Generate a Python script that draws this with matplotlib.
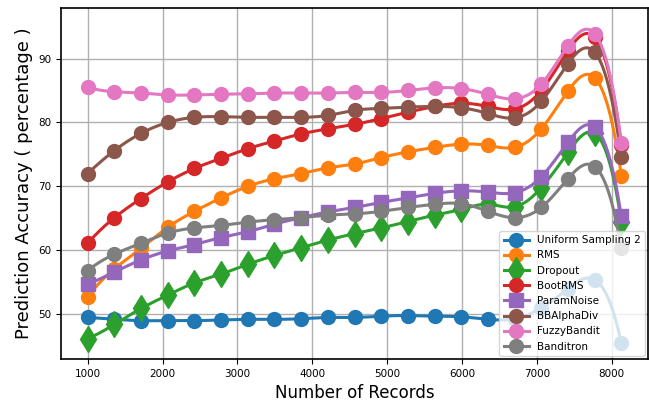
import numpy as np
import matplotlib
matplotlib.use("Agg")
import matplotlib.pyplot as plt
from matplotlib.lines import Line2D

# Number of records at each evaluation step
records = [1000, 1357, 1713, 2070, 2426, 2783, 3139, 3496, 3852, 4209, 4565,
           4922, 5278, 5635, 5991, 6348, 6704, 7061, 7417, 7774, 8130]

uniform_sampling = [49.5, 49.2, 49.0, 49.0, 49.0, 49.1, 49.2, 49.2, 49.3, 49.5, 49.5,
                    49.7, 49.8, 49.7, 49.6, 49.2, 49.3, 51.0, 54.0, 55.4, 45.5]
rms = [52.7, 57.1, 60.3, 63.6, 66.1, 68.2, 70.0, 71.2, 72.0, 72.9, 73.5,
       74.5, 75.4, 76.1, 76.6, 76.4, 76.1, 79.0, 84.9, 87.0, 71.7]
dropout = [46.2, 48.4, 50.9, 53.0, 54.9, 56.3, 57.8, 59.2, 60.4, 61.6, 62.6,
           63.5, 64.5, 65.5, 66.4, 67.2, 66.8, 69.8, 75.3, 78.3, 64.5]
boot_rms = [61.1, 65.1, 68.1, 70.7, 72.8, 74.4, 75.9, 77.1, 78.2, 79.0, 79.7,
            80.6, 81.6, 82.5, 83.0, 82.5, 82.1, 85.0, 91.2, 93.3, 76.5]
param_noise = [54.7, 56.6, 58.5, 59.9, 60.9, 62.0, 62.9, 64.1, 65.1, 66.0, 66.7,
               67.5, 68.2, 68.9, 69.3, 69.1, 69.0, 71.5, 76.9, 79.3, 65.3]
bb_alpha_div = [72.0, 75.6, 78.3, 80.0, 80.8, 80.9, 80.8, 80.8, 80.8, 81.1, 81.9,
                82.2, 82.4, 82.5, 82.3, 81.4, 80.7, 83.3, 89.2, 91.0, 74.6]
fuzzy_bandit = [85.5, 84.8, 84.6, 84.3, 84.3, 84.4, 84.5, 84.6, 84.6, 84.6, 84.7,
                84.7, 85.0, 85.4, 85.3, 84.4, 83.7, 86.0, 92.0, 93.9, 76.8]
banditron = [56.8, 59.4, 61.1, 62.7, 63.5, 63.9, 64.4, 64.8, 65.1, 65.5, 65.7,
             66.1, 66.7, 67.2, 67.3, 66.1, 65.1, 66.7, 71.2, 73.1, 60.3]

labels = ["Uniform Sampling 2", "RMS", "Dropout", "BootRMS", "ParamNoise",
          "BBAlphaDiv", "FuzzyBandit", "Banditron"]
series = [uniform_sampling, rms, dropout, boot_rms, param_noise,
          bb_alpha_div, fuzzy_bandit, banditron]
markers = ["o", "o", "d", "o", "s", "o", "o", "o"]
colors = [f"C{i}" for i in range(8)]


def cubic_spline(x, y, num=300):
    """Not-a-knot cubic spline through (x, y), sampled on a dense grid."""
    x = np.asarray(x, float)
    y = np.asarray(y, float)
    m = len(x)
    h = np.diff(x)
    A = np.zeros((m, m))
    rhs = np.zeros(m)
    A[0, 0], A[0, 1], A[0, 2] = -h[1], h[0] + h[1], -h[0]
    A[-1, -3], A[-1, -2], A[-1, -1] = -h[-1], h[-2] + h[-1], -h[-2]
    for i in range(1, m - 1):
        A[i, i - 1] = h[i - 1]
        A[i, i] = 2 * (h[i - 1] + h[i])
        A[i, i + 1] = h[i]
        rhs[i] = 3 * ((y[i + 1] - y[i]) / h[i] - (y[i] - y[i - 1]) / h[i - 1])
    c = np.linalg.solve(A, rhs)
    b = (y[1:] - y[:-1]) / h - h * (2 * c[:-1] + c[1:]) / 3
    d = (c[1:] - c[:-1]) / (3 * h)
    xs = np.linspace(x[0], x[-1], num)
    idx = np.clip(np.searchsorted(x, xs) - 1, 0, m - 2)
    t = xs - x[idx]
    ys = y[idx] + b[idx] * t + c[idx] * t ** 2 + d[idx] * t ** 3
    return xs, ys


fig = plt.figure(figsize=(6.49, 4.09), dpi=100)
ax = fig.add_axes([61 / 649, 1 - 359 / 409, 587 / 649, 351 / 409])

lw = 2.2
ms = 10
handles = []
for vals, lab, mk, col in zip(series, labels, markers, colors):
    xs, ys = cubic_spline(records, vals)
    ax.plot(xs, ys, color=col, lw=lw)
    msize = 13 if mk == "d" else ms
    ax.plot(records, vals, linestyle="none", marker=mk, color=col, ms=msize)
    handles.append(Line2D([], [], color=col, lw=lw, marker=mk, ms=msize, label=lab))

ax.set_ylim(43.0, 97.9)
ax.set_xticks([1000, 2000, 3000, 4000, 5000, 6000, 7000, 8000])
ax.set_yticks([50, 60, 70, 80, 90])
ax.tick_params(labelsize=7.5)
ax.grid(True, color="#b0b0b0", lw=1.0)
ax.set_axisbelow(True)
for sp in ax.spines.values():
    sp.set_linewidth(1.2)

ax.set_xlabel("Number of Records", fontsize=12)
ax.set_ylabel("Prediction Accuracy ( percentage )", fontsize=13)
ax.legend(handles=handles, loc="lower right", fontsize=7.5,
          borderaxespad=0.3, handlelength=2.4)

fig.savefig("out.png", dpi=100)
